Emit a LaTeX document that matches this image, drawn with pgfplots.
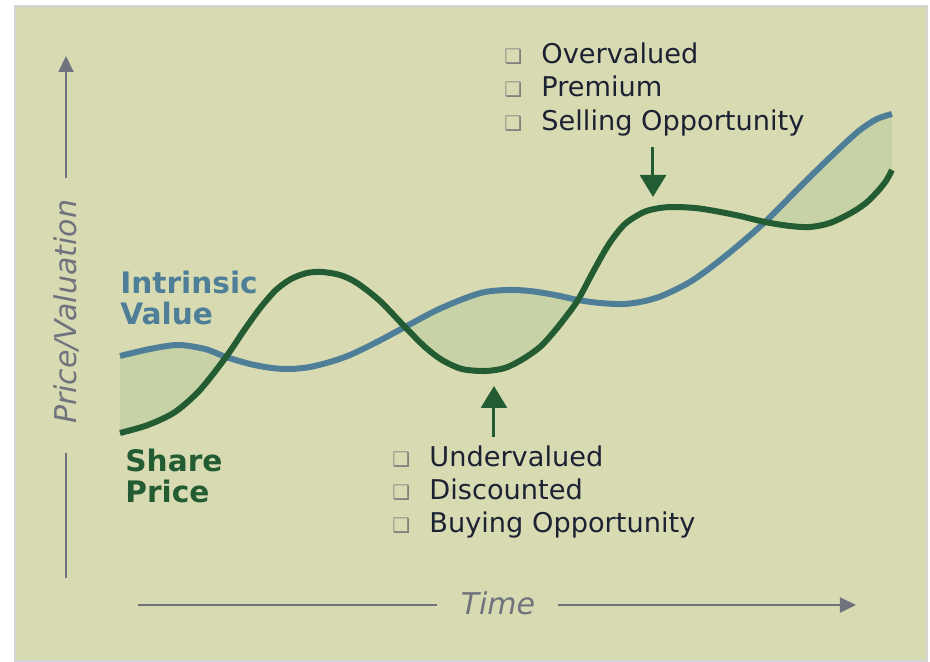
\documentclass[border=0pt]{standalone}
\usepackage{pgfplots}
\pgfplotsset{compat=1.18}
\usepackage{pgfplotstable}
\usepgfplotslibrary{fillbetween}
\usetikzlibrary{arrows.meta}
\usepackage{fontspec}
\setmainfont{DejaVu Sans}

\definecolor{bg}{HTML}{D8DBB2}
\definecolor{gapfill}{HTML}{C7D3A7}
\definecolor{ivblue}{HTML}{4F7F98}
\definecolor{spgreen}{HTML}{235C33}
\definecolor{txt}{HTML}{1C2233}
\definecolor{axgrey}{HTML}{70737D}
\definecolor{frame}{HTML}{D6D6D6}

% x = time (px), y = price (px from top)
\pgfplotstableread{
x y
120 356
150 349
178 345
205 349
226 357
250 364
272 368
291 369
310 367
330 362
350 355
375 343
405 327
435 311
463 299
485 292
508 290
530 291
555 295
578 300
600 303
624 304
645 301
664 295
690 282
714 265
740 244
765 222
790 197
815 172
840 148
860 130
877 119
892 114
}\intrinsic

\pgfplotstableread{
x y
120 433
148 425
175 412
200 390
226 357
245 329
261 307
276 290
291 279
307 273
322 272
340 275
357 283
380 301
405 327
425 347
442 360
462 369
485 371
505 368
523 359
540 347
553 333
565 318
578 300
593 272
609 244
625 224
644 212
660 208
674 207
695 208
715 211
740 216
765 222
790 226
810 227
830 223
851 213
866 203
878 191
886 181
892 170
}\share

\newcommand{\bul}{{\fontsize{10bp}{10bp}\selectfont\color{gray}❑}}

\begin{document}
\begin{tikzpicture}
% page and panel (1 px = 0.5 bp, y measured from the top)
\fill[white] (0,0) rectangle (465bp,329.5bp);
\draw[frame, fill=bg, line width=1bp] (7.5bp,-1bp) rectangle (463.5bp,326.5bp);
\begin{axis}[
    width=465bp, height=329.5bp, scale only axis,
    xmin=0, xmax=930, ymin=0, ymax=659, y dir=reverse,
    hide axis, clip=false,
]
\addplot[name path=iv, draw=none, smooth] table {\intrinsic};
\addplot[name path=sp, draw=none, smooth] table {\share};
\addplot[fill=gapfill, draw=none] fill between[of=iv and sp, split, on layer=main,
    every odd segment/.style={fill=none}];
\addplot[ivblue, line width=3bp, smooth] table {\intrinsic};
\addplot[spgreen, line width=3bp, smooth] table {\share};

% axis arrows
\draw[axgrey, line width=1bp, -{Triangle[width=7.5bp,length=8bp]}]
    (axis cs:66,178) -- (axis cs:66,56);
\draw[axgrey, line width=1bp] (axis cs:66,453) -- (axis cs:66,578);
\node[axgrey, rotate=90, font=\fontsize{15bp}{15bp}\selectfont\itshape]
    at (axis cs:66,312) {Price/Valuation};
\draw[axgrey, line width=1bp] (axis cs:138,605) -- (axis cs:437,605);
\draw[axgrey, line width=1bp, -{Triangle[width=7.5bp,length=8bp]}]
    (axis cs:558,605) -- (axis cs:856,605);
\node[axgrey, font=\fontsize{15bp}{15bp}\selectfont\itshape]
    at (axis cs:498,603) {Time};

% opportunity arrows
\draw[spgreen, line width=1.5bp, -{Triangle[width=13bp,length=11bp]}]
    (axis cs:653,147) -- (axis cs:653,197);
\draw[spgreen, line width=1.5bp, -{Triangle[width=13bp,length=11bp]}]
    (axis cs:494,437) -- (axis cs:494,386);

% series labels
\begin{scope}[font=\fontsize{14.8bp}{14.8bp}\selectfont\bfseries]
\node[ivblue, anchor=base west, inner sep=0] at (axis cs:120,294) {Intrinsic};
\node[ivblue, anchor=base west, inner sep=0] at (axis cs:120,325) {Value};
\node[spgreen, anchor=base west, inner sep=0] at (axis cs:125,472) {Share};
\node[spgreen, anchor=base west, inner sep=0] at (axis cs:125,503) {Price};
\end{scope}

% bullet lists
\begin{scope}[font=\fontsize{13.6bp}{13.6bp}\selectfont, txt]
\node[anchor=base west, inner sep=0] at (axis cs:541,64) {Overvalued};
\node[anchor=base west, inner sep=0] at (axis cs:541,97) {Premium};
\node[anchor=base west, inner sep=0] at (axis cs:541,131) {Selling Opportunity};
\node[anchor=base west, inner sep=0] at (axis cs:429,467) {Undervalued};
\node[anchor=base west, inner sep=0] at (axis cs:429,500) {Discounted};
\node[anchor=base west, inner sep=0] at (axis cs:429,533) {Buying Opportunity};
\node[anchor=base west, inner sep=0] at (axis cs:504,64) {\bul};
\node[anchor=base west, inner sep=0] at (axis cs:504,97) {\bul};
\node[anchor=base west, inner sep=0] at (axis cs:504,131) {\bul};
\node[anchor=base west, inner sep=0] at (axis cs:392,467) {\bul};
\node[anchor=base west, inner sep=0] at (axis cs:392,500) {\bul};
\node[anchor=base west, inner sep=0] at (axis cs:392,533) {\bul};
\end{scope}
\end{axis}
\end{tikzpicture}
\end{document}
